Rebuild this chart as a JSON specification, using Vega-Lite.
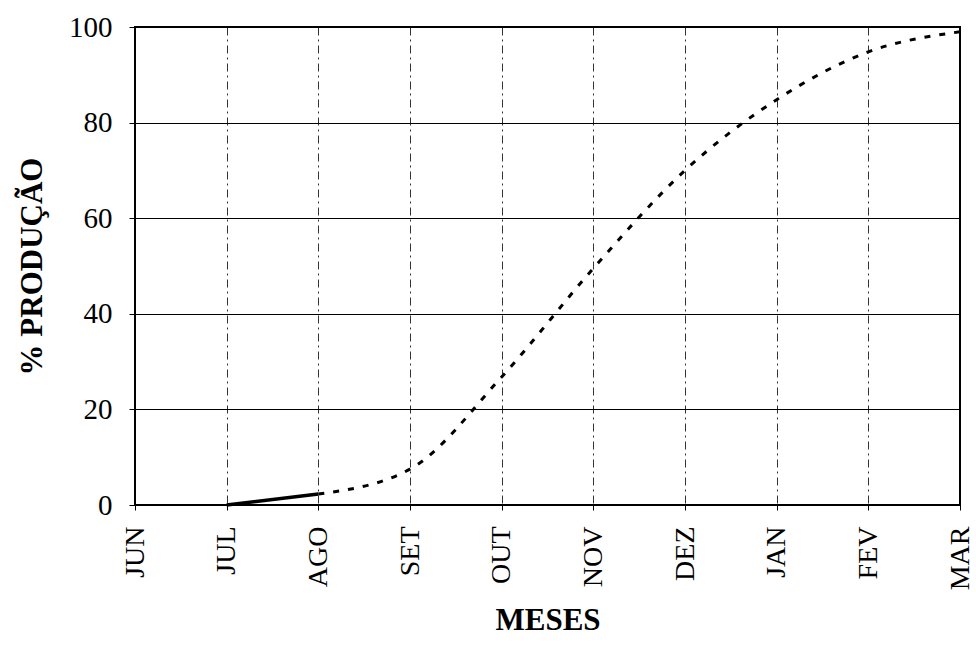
{
  "$schema": "https://vega.github.io/schema/vega-lite/v6.json",
  "autosize": "none",
  "width": 825,
  "height": 478,
  "padding": {"left": 135, "top": 27, "right": 16, "bottom": 142},
  "background": "white",
  "config": {
    "font": "Liberation Serif",
    "view": {"stroke": "black", "strokeWidth": 2}
  },
  "data": {
    "values": [
      {"mes": "JUL", "pct": 0, "seg": "solid"},
      {"mes": "AGO", "pct": 2.3, "seg": "solid"},
      {"mes": "AGO", "pct": 2.3, "seg": "dash"},
      {"mes": "SET", "pct": 7.5, "seg": "dash"},
      {"mes": "OUT", "pct": 26.8, "seg": "dash"},
      {"mes": "NOV", "pct": 49.5, "seg": "dash"},
      {"mes": "DEZ", "pct": 70, "seg": "dash"},
      {"mes": "JAN", "pct": 84.8, "seg": "dash"},
      {"mes": "FEV", "pct": 94.8, "seg": "dash"},
      {"mes": "MAR", "pct": 99, "seg": "dash"}
    ]
  },
  "encoding": {
    "x": {
      "field": "mes",
      "type": "ordinal",
      "scale": {"type": "point", "padding": 0, "domain": ["JUN", "JUL", "AGO", "SET", "OUT", "NOV", "DEZ", "JAN", "FEV", "MAR"]},
      "axis": {
        "title": "MESES",
        "titleFontSize": 31,
        "titleFontWeight": "bold",
        "titleColor": "black",
        "titlePadding": 16,
        "labelAngle": -90,
        "labelFontSize": 28,
        "labelColor": "black",
        "labelPadding": 16,
        "tickSize": 5,
        "tickColor": "black",
        "domain": false,
        "grid": true,
        "gridColor": "black",
        "gridOpacity": 0.8,
        "gridWidth": 1,
        "gridDash": [8, 4, 2, 4]
      }
    },
    "y": {
      "field": "pct",
      "type": "quantitative",
      "scale": {"domain": [0, 100], "nice": false, "zero": true},
      "axis": {
        "title": "% PRODUÇÃO",
        "titleFontSize": 31,
        "titleFontWeight": "bold",
        "titleColor": "black",
        "titlePadding": 20,
        "values": [0, 20, 40, 60, 80, 100],
        "labelFontSize": 29,
        "labelColor": "black",
        "labelPadding": 17,
        "tickSize": 6,
        "tickColor": "black",
        "domain": false,
        "grid": true,
        "gridColor": "black",
        "gridWidth": 1
      }
    }
  },
  "layer": [
    {
      "transform": [{"filter": "datum.seg === 'solid'"}],
      "mark": {"type": "line", "color": "black", "strokeWidth": 3.5, "interpolate": "monotone"}
    },
    {
      "transform": [{"filter": "datum.seg === 'dash'"}],
      "mark": {"type": "line", "color": "black", "strokeWidth": 3, "strokeDash": [6, 9], "interpolate": "monotone"}
    }
  ]
}
